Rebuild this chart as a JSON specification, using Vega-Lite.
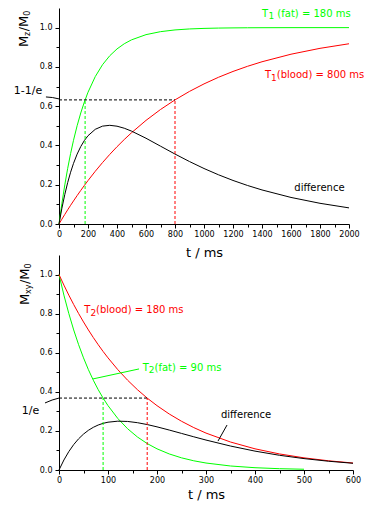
{
  "$schema": "https://vega.github.io/schema/vega-lite/v6.json",
  "background": "white",
  "padding": {"left": 13, "top": 8, "right": 5, "bottom": 3},
  "bounds": "flush",
  "spacing": 31,
  "resolve": {"scale": {"x": "independent", "y": "independent", "color": "independent"}},
  "datasets": {
    "topCurves": [
      {"t": 0, "fat": 0, "blood": 0, "difference": 0},
      {"t": 20, "fat": 0.1052, "blood": 0.0247, "difference": 0.0805},
      {"t": 40, "fat": 0.1993, "blood": 0.0488, "difference": 0.1505},
      {"t": 60, "fat": 0.2835, "blood": 0.0723, "difference": 0.2112},
      {"t": 80, "fat": 0.3588, "blood": 0.0952, "difference": 0.2636},
      {"t": 100, "fat": 0.4262, "blood": 0.1175, "difference": 0.3087},
      {"t": 125, "fat": 0.5006, "blood": 0.1447, "difference": 0.3559},
      {"t": 150, "fat": 0.5654, "blood": 0.1710, "difference": 0.3944},
      {"t": 175, "fat": 0.6217, "blood": 0.1965, "difference": 0.4252},
      {"t": 200, "fat": 0.6708, "blood": 0.2212, "difference": 0.4496},
      {"t": 250, "fat": 0.7506, "blood": 0.2684, "difference": 0.4822},
      {"t": 300, "fat": 0.8111, "blood": 0.3127, "difference": 0.4984},
      {"t": 350, "fat": 0.8569, "blood": 0.3544, "difference": 0.5025},
      {"t": 400, "fat": 0.8916, "blood": 0.3935, "difference": 0.4981},
      {"t": 450, "fat": 0.9179, "blood": 0.4302, "difference": 0.4877},
      {"t": 500, "fat": 0.9378, "blood": 0.4647, "difference": 0.4731},
      {"t": 600, "fat": 0.9643, "blood": 0.5276, "difference": 0.4367},
      {"t": 700, "fat": 0.9795, "blood": 0.5831, "difference": 0.3964},
      {"t": 800, "fat": 0.9883, "blood": 0.6321, "difference": 0.3562},
      {"t": 900, "fat": 0.9933, "blood": 0.6753, "difference": 0.3180},
      {"t": 1000, "fat": 0.9961, "blood": 0.7135, "difference": 0.2826},
      {"t": 1100, "fat": 0.9978, "blood": 0.7472, "difference": 0.2506},
      {"t": 1200, "fat": 0.9987, "blood": 0.7769, "difference": 0.2218},
      {"t": 1300, "fat": 0.9993, "blood": 0.8031, "difference": 0.1962},
      {"t": 1400, "fat": 0.9996, "blood": 0.8262, "difference": 0.1734},
      {"t": 1600, "fat": 0.9999, "blood": 0.8647, "difference": 0.1352},
      {"t": 1800, "fat": 1.0, "blood": 0.8946, "difference": 0.1054},
      {"t": 2000, "fat": 1.0, "blood": 0.9179, "difference": 0.0821}
    ],
    "bottomCurves": [
      {"t": 0, "fat": 1, "blood": 1, "difference": 0},
      {"t": 10, "fat": 0.8948, "blood": 0.9460, "difference": 0.0511},
      {"t": 20, "fat": 0.8007, "blood": 0.8948, "difference": 0.0941},
      {"t": 30, "fat": 0.7165, "blood": 0.8465, "difference": 0.1300},
      {"t": 40, "fat": 0.6412, "blood": 0.8007, "difference": 0.1596},
      {"t": 50, "fat": 0.5738, "blood": 0.7575, "difference": 0.1837},
      {"t": 60, "fat": 0.5134, "blood": 0.7165, "difference": 0.2031},
      {"t": 70, "fat": 0.4594, "blood": 0.6778, "difference": 0.2184},
      {"t": 80, "fat": 0.4111, "blood": 0.6412, "difference": 0.2301},
      {"t": 90, "fat": 0.3679, "blood": 0.6065, "difference": 0.2387},
      {"t": 100, "fat": 0.3292, "blood": 0.5738, "difference": 0.2446},
      {"t": 120, "fat": 0.2636, "blood": 0.5134, "difference": 0.2498},
      {"t": 140, "fat": 0.2111, "blood": 0.4594, "difference": 0.2484},
      {"t": 160, "fat": 0.1690, "blood": 0.4111, "difference": 0.2421},
      {"t": 180, "fat": 0.1353, "blood": 0.3679, "difference": 0.2325},
      {"t": 200, "fat": 0.1084, "blood": 0.3292, "difference": 0.2208},
      {"t": 225, "fat": 0.0821, "blood": 0.2865, "difference": 0.2044},
      {"t": 250, "fat": 0.0622, "blood": 0.2494, "difference": 0.1872},
      {"t": 275, "fat": 0.0471, "blood": 0.2170, "difference": 0.1699},
      {"t": 300, "fat": 0.0357, "blood": 0.1889, "difference": 0.1532},
      {"t": 350, "fat": 0.0205, "blood": 0.1431, "difference": 0.1226},
      {"t": 400, "fat": 0.0117, "blood": 0.1084, "difference": 0.0966},
      {"t": 450, "fat": 0.0067, "blood": 0.0821, "difference": 0.0753},
      {"t": 500, "fat": 0.0039, "blood": 0.0622, "difference": 0.0583},
      {"t": 550, "fat": null, "blood": 0.0471, "difference": 0.0449},
      {"t": 600, "fat": null, "blood": 0.0357, "difference": 0.0344}
    ],
    "topGuides": [
      {"seg": "h", "series": "black", "t": 0, "v": 0.632},
      {"seg": "h", "series": "black", "t": 800, "v": 0.632},
      {"seg": "g", "series": "fat", "t": 180, "v": 0},
      {"seg": "g", "series": "fat", "t": 180, "v": 0.632},
      {"seg": "r", "series": "blood", "t": 800, "v": 0},
      {"seg": "r", "series": "blood", "t": 800, "v": 0.632}
    ],
    "bottomGuides": [
      {"seg": "h", "series": "black", "t": 0, "v": 0.368},
      {"seg": "h", "series": "black", "t": 180, "v": 0.368},
      {"seg": "g", "series": "fat", "t": 90, "v": 0},
      {"seg": "g", "series": "fat", "t": 90, "v": 0.368},
      {"seg": "r", "series": "blood", "t": 180, "v": 0},
      {"seg": "r", "series": "blood", "t": 180, "v": 0.368}
    ],
    "topPointers": [
      {"seg": "e", "series": "black", "t": -90, "v": 0.647},
      {"seg": "e", "series": "black", "t": -45, "v": 0.644},
      {"seg": "e", "series": "black", "t": 0, "v": 0.637}
    ],
    "bottomPointers": [
      {"seg": "e", "series": "black", "t": -28.6, "v": 0.343},
      {"seg": "e", "series": "black", "t": -14, "v": 0.358},
      {"seg": "e", "series": "black", "t": 0, "v": 0.368},
      {"seg": "f", "series": "fat", "t": 69.4, "v": 0.466},
      {"seg": "f", "series": "fat", "t": 163.3, "v": 0.517},
      {"seg": "d", "series": "black", "t": 324.5, "v": 0.148},
      {"seg": "d", "series": "black", "t": 342.9, "v": 0.230}
    ],
    "topText": [
      {"role": "label", "series": "fat", "t": 1400, "v": 1.0557, "text": "T"},
      {"role": "sub", "series": "fat", "t": 1445, "v": 1.0557, "text": "1"},
      {"role": "label", "series": "fat", "t": 1506, "v": 1.0557, "text": "(fat) = 180 ms"},
      {"role": "label", "series": "blood", "t": 1421, "v": 0.7435, "text": "T"},
      {"role": "sub", "series": "blood", "t": 1462, "v": 0.7435, "text": "1"},
      {"role": "label", "series": "blood", "t": 1502, "v": 0.7435, "text": "(blood) = 800 ms"},
      {"role": "label", "series": "black", "t": 1623, "v": 0.170, "text": "difference"},
      {"role": "note", "series": "black", "t": -312, "v": 0.662, "text": "1-1/e"},
      {"role": "title", "series": "black", "t": -214, "v": 0.901, "text": "M"},
      {"role": "titlesub", "series": "black", "t": -214, "v": 0.957, "text": "z"},
      {"role": "title", "series": "black", "t": -214, "v": 0.981, "text": "/"},
      {"role": "title", "series": "black", "t": -214, "v": 1.003, "text": "M"},
      {"role": "titlesub", "series": "black", "t": -214, "v": 1.060, "text": "0"}
    ],
    "bottomText": [
      {"role": "label", "series": "blood", "t": 51.6, "v": 0.802, "text": "T"},
      {"role": "sub", "series": "blood", "t": 64.1, "v": 0.802, "text": "2"},
      {"role": "label", "series": "blood", "t": 75.7, "v": 0.802, "text": "(blood) = 180 ms"},
      {"role": "label", "series": "fat", "t": 170.8, "v": 0.508, "text": "T"},
      {"role": "sub", "series": "fat", "t": 183.3, "v": 0.508, "text": "2"},
      {"role": "label", "series": "fat", "t": 194.9, "v": 0.508, "text": "(fat) = 90 ms"},
      {"role": "label", "series": "black", "t": 330.6, "v": 0.2645, "text": "difference"},
      {"role": "note", "series": "black", "t": -76, "v": 0.285, "text": "1/e"},
      {"role": "title", "series": "black", "t": -62, "v": 0.844, "text": "M"},
      {"role": "titlesub", "series": "black", "t": -62, "v": 0.900, "text": "xy"},
      {"role": "title", "series": "black", "t": -62, "v": 0.951, "text": "/"},
      {"role": "title", "series": "black", "t": -62, "v": 0.974, "text": "M"},
      {"role": "titlesub", "series": "black", "t": -62, "v": 1.031, "text": "0"}
    ]
  },
  "vconcat": [
    {
      "width": 290,
      "height": 216,
      "encoding": {
        "x": {
          "field": "t", "type": "quantitative",
          "scale": {"domain": [0, 2000], "nice": false, "zero": false},
          "axis": {
            "title": "t / ms", "format": "d",
            "values": [0,100,200,300,400,500,600,700,800,900,1000,1100,1200,1300,1400,1500,1600,1700,1800,1900,2000],
            "labelExpr": "datum.value % 200 === 0 ? datum.label : ''",
            "tickSize": {"condition": {"test": "datum.value % 200 === 0", "value": 4}, "value": 3},
            "labelFlush": false, "labelOverlap": false, "grid": false, "titlePadding": 8
          }
        },
        "y": {
          "field": "v", "type": "quantitative",
          "scale": {"domain": [0, 1.1], "nice": false, "zero": false},
          "axis": {
            "title": null,
            "values": [0,0.1,0.2,0.3,0.4,0.5,0.6,0.7,0.8,0.9,1.0],
            "labelExpr": "round(datum.value*10) % 2 === 0 ? format(datum.value, '.1f') : ''",
            "tickSize": {"condition": {"test": "round(datum.value*10) % 2 === 0", "value": 4}, "value": 3},
            "labelPadding": 3, "labelFlush": false, "labelOverlap": false, "grid": false
          }
        },
        "color": {
          "field": "series", "type": "nominal", "legend": null,
          "scale": {"domain": ["fat", "blood", "difference", "black"], "range": ["#00ff00", "#ff0000", "#000000", "#000000"]}
        }
      },
      "layer": [
        {
          "data": {"name": "topCurves"},
          "transform": [{"fold": ["fat", "blood", "difference"], "as": ["series", "v"]}],
          "mark": {"type": "line", "strokeWidth": 1}
        },
        {
          "data": {"name": "topGuides"},
          "mark": {"type": "line", "strokeWidth": 1, "strokeDash": [3, 2]},
          "encoding": {"detail": {"field": "seg"}}
        },
        {
          "data": {"name": "topPointers"},
          "mark": {"type": "line", "strokeWidth": 1},
          "encoding": {"detail": {"field": "seg"}}
        },
        {
          "data": {"name": "topText"},
          "transform": [{"filter": "datum.role === 'label'"}],
          "mark": {"type": "text", "font": "DejaVu Sans", "fontSize": 10, "align": "left", "baseline": "alphabetic"},
          "encoding": {"text": {"field": "text"}}
        },
        {
          "data": {"name": "topText"},
          "transform": [{"filter": "datum.role === 'sub'"}],
          "mark": {"type": "text", "font": "DejaVu Sans", "fontSize": 9, "align": "left", "baseline": "alphabetic", "dy": 2.6},
          "encoding": {"text": {"field": "text"}}
        },
        {
          "data": {"name": "topText"},
          "transform": [{"filter": "datum.role === 'note'"}],
          "mark": {"type": "text", "font": "DejaVu Sans", "fontSize": 11, "align": "left", "baseline": "alphabetic"},
          "encoding": {"text": {"field": "text"}}
        },
        {
          "data": {"name": "topText"},
          "transform": [{"filter": "datum.role === 'title'"}],
          "mark": {"type": "text", "font": "DejaVu Sans", "fontSize": 13, "align": "left", "baseline": "alphabetic", "angle": 270},
          "encoding": {"text": {"field": "text"}}
        },
        {
          "data": {"name": "topText"},
          "transform": [{"filter": "datum.role === 'titlesub'"}],
          "mark": {"type": "text", "font": "DejaVu Sans", "fontSize": 8, "align": "left", "baseline": "alphabetic", "angle": 270, "dy": 2},
          "encoding": {"text": {"field": "text"}}
        }
      ]
    },
    {
      "width": 294,
      "height": 215,
      "encoding": {
        "x": {
          "field": "t", "type": "quantitative",
          "scale": {"domain": [0, 600], "nice": false, "zero": false},
          "axis": {
            "title": "t / ms", "format": "d",
            "values": [0,50,100,150,200,250,300,350,400,450,500,550,600],
            "labelExpr": "datum.value % 100 === 0 ? datum.label : ''",
            "tickSize": {"condition": {"test": "datum.value % 100 === 0", "value": 4}, "value": 3},
            "labelFlush": false, "labelOverlap": false, "grid": false, "titlePadding": 4
          }
        },
        "y": {
          "field": "v", "type": "quantitative",
          "scale": {"domain": [0, 1.1], "nice": false, "zero": false},
          "axis": {
            "title": null,
            "values": [0,0.1,0.2,0.3,0.4,0.5,0.6,0.7,0.8,0.9,1.0],
            "labelExpr": "round(datum.value*10) % 2 === 0 ? format(datum.value, '.1f') : ''",
            "tickSize": {"condition": {"test": "round(datum.value*10) % 2 === 0", "value": 4}, "value": 3},
            "labelPadding": 3, "labelFlush": false, "labelOverlap": false, "grid": false
          }
        },
        "color": {
          "field": "series", "type": "nominal", "legend": null,
          "scale": {"domain": ["fat", "blood", "difference", "black"], "range": ["#00ff00", "#ff0000", "#000000", "#000000"]}
        }
      },
      "layer": [
        {
          "data": {"name": "bottomCurves"},
          "transform": [{"fold": ["fat", "blood", "difference"], "as": ["series", "v"]}],
          "mark": {"type": "line", "strokeWidth": 1}
        },
        {
          "data": {"name": "bottomGuides"},
          "mark": {"type": "line", "strokeWidth": 1, "strokeDash": [3, 2]},
          "encoding": {"detail": {"field": "seg"}}
        },
        {
          "data": {"name": "bottomPointers"},
          "mark": {"type": "line", "strokeWidth": 1},
          "encoding": {"detail": {"field": "seg"}}
        },
        {
          "data": {"name": "bottomText"},
          "transform": [{"filter": "datum.role === 'label'"}],
          "mark": {"type": "text", "font": "DejaVu Sans", "fontSize": 10, "align": "left", "baseline": "alphabetic"},
          "encoding": {"text": {"field": "text"}}
        },
        {
          "data": {"name": "bottomText"},
          "transform": [{"filter": "datum.role === 'sub'"}],
          "mark": {"type": "text", "font": "DejaVu Sans", "fontSize": 9, "align": "left", "baseline": "alphabetic", "dy": 2.6},
          "encoding": {"text": {"field": "text"}}
        },
        {
          "data": {"name": "bottomText"},
          "transform": [{"filter": "datum.role === 'note'"}],
          "mark": {"type": "text", "font": "DejaVu Sans", "fontSize": 11, "align": "left", "baseline": "alphabetic"},
          "encoding": {"text": {"field": "text"}}
        },
        {
          "data": {"name": "bottomText"},
          "transform": [{"filter": "datum.role === 'title'"}],
          "mark": {"type": "text", "font": "DejaVu Sans", "fontSize": 13, "align": "left", "baseline": "alphabetic", "angle": 270},
          "encoding": {"text": {"field": "text"}}
        },
        {
          "data": {"name": "bottomText"},
          "transform": [{"filter": "datum.role === 'titlesub'"}],
          "mark": {"type": "text", "font": "DejaVu Sans", "fontSize": 8, "align": "left", "baseline": "alphabetic", "angle": 270, "dy": 2},
          "encoding": {"text": {"field": "text"}}
        }
      ]
    }
  ],
  "config": {
    "view": {"stroke": null},
    "axis": {
      "labelFont": "DejaVu Sans", "labelFontSize": 8, "labelColor": "#000000",
      "domainColor": "#000000", "tickColor": "#000000", "domainWidth": 1, "tickWidth": 1,
      "titleFont": "DejaVu Sans", "titleFontSize": 13, "titleFontWeight": "normal", "titleColor": "#000000",
      "labelPadding": 2
    }
  }
}
